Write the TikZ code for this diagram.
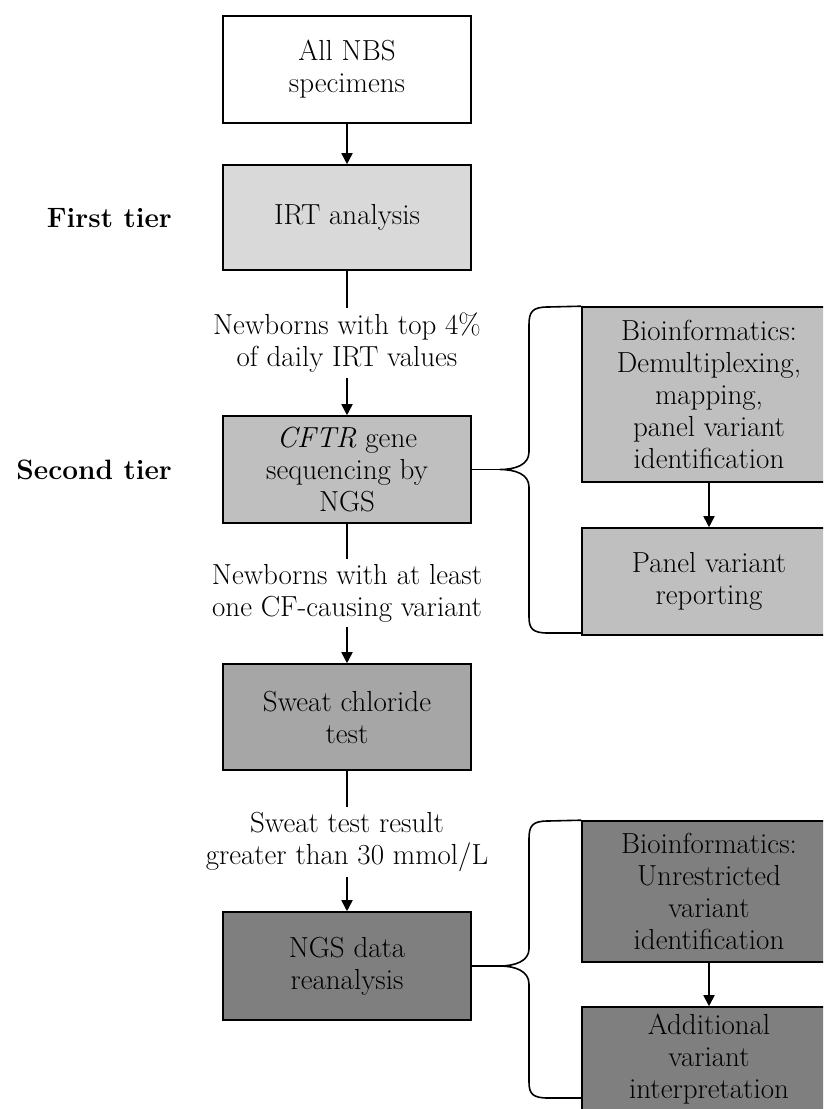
\documentclass[tikz,border=0pt]{standalone}
\usetikzlibrary{arrows.meta}
\definecolor{gA}{HTML}{D9D9D9}
\definecolor{gB}{HTML}{BFBFBF}
\definecolor{gC}{HTML}{A6A6A6}
\definecolor{gD}{HTML}{7F7F7F}
\begin{document}
\begin{tikzpicture}[x=1pt,y=-1pt,
  every node/.style={font=\fontsize{29}{32}\selectfont, align=center, inner sep=0pt},
  box/.style={draw=black, line width=1.6pt, minimum width=248pt},
  rbox/.style={draw=black, line width=1.6pt, minimum width=254pt},
  lab/.style={inner sep=5pt},
  tier/.style={font=\fontsize{28}{32}\selectfont\bfseries, anchor=east},
  conn/.style={line width=1.8pt},
  arr/.style={line width=1.8pt, -{Triangle[width=11pt,length=11pt]}},
  brace/.style={line width=1.6pt}
]
\clip (0,0) rectangle (823,1109);
\fill[white] (0,0) rectangle (823,1109);

% main column
\node[box, fill=white, minimum height=107pt] (b1) at (347,69.5) {All NBS\\specimens};
\node[box, fill=gA, minimum height=105pt] (b2) at (347,217.5) {IRT analysis};
\node[box, fill=gB, minimum height=107pt] (b3) at (347,469.5) {\textit{CFTR} gene\\sequencing by\\NGS};
\node[box, fill=gC, minimum height=106pt] (b4) at (347,717) {Sweat chloride\\test};
\node[box, fill=gD, minimum height=108pt] (b5) at (347,966) {NGS data\\reanalysis};

% labels
\node[lab] (l1) at (347,343) {Newborns with top 4\%\\of daily IRT values};
\node[lab] (l2) at (347,593) {Newborns with at least\\one CF-causing variant};
\node[lab] (l3) at (347,842) {Sweat test result\\greater than 30 mmol/L};

% tiers
\node[tier] (t1) at (172,218) {First tier};
\node[tier] (t2) at (172,470) {Second tier};

% right boxes
\node[rbox, fill=gB, minimum height=175pt] (ra) at (709,394.5) {Bioinformatics:\\Demultiplexing,\\mapping,\\panel variant\\identification};
\node[rbox, fill=gB, minimum height=107pt] (rb) at (709,581.5) {Panel variant\\reporting};
\node[rbox, fill=gD, minimum height=141pt] (rc) at (709,891.5) {Bioinformatics:\\Unrestricted\\variant\\identification};
\node[rbox, fill=gD, minimum height=105pt] (rd) at (709,1059.5) {Additional\\variant\\interpretation};

% connectors
\draw[arr] (b1) -- (b2);
\draw[conn] (b2) -- (l1);
\draw[arr] (l1) -- (b3);
\draw[conn] (b3) -- (l2);
\draw[arr] (l2) -- (b4);
\draw[conn] (b4) -- (l3);
\draw[arr] (l3) -- (b5);
\draw[arr] (ra) -- (rb);
\draw[arr] (rc) -- (rd);

% braces
\coordinate (tipA) at (500,469.5);
\coordinate (tipB) at (500,966);
\draw[conn] (b3.east) -- (tipA);
\draw[conn] (b5.east) -- (tipB);
\draw[brace] (ra.north west) -- (548,307) .. controls (532,307) and (529,312) .. (529,325)
  -- (529,452) .. controls (529,465) and (515,469.5) .. (tipA)
  .. controls (515,469.5) and (529,474) .. (529,487)
  -- (529,617) .. controls (529,629) and (533,633) .. (548,633) -- (582,633);
\draw[brace] (rc.north west) -- (548,821) .. controls (532,821) and (529,826) .. (529,839)
  -- (529,949) .. controls (529,961) and (515,966) .. (tipB)
  .. controls (515,966) and (529,971) .. (529,984)
  -- (529,1082) .. controls (529,1094) and (533,1098) .. (548,1098) -- (582,1098);
\end{tikzpicture}
\end{document}
